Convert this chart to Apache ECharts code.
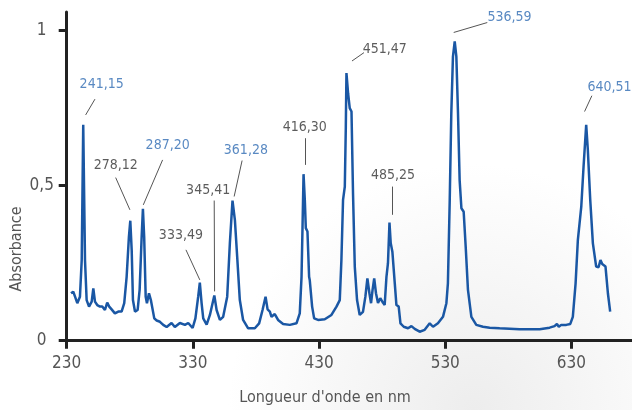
<!DOCTYPE html>
<html><head><meta charset="utf-8">
<script src="https://cdn.jsdelivr.net/npm/echarts@6/dist/echarts.min.js"></script>
<style>html,body{margin:0;padding:0;background:#fff}#c{width:632px;height:410px}</style>
</head><body><div id="c"></div>
<script>
// Spectrum (wavelength in nm, absorbance)
const wavelength = [
233.4,235.2,236.6,238.4,240.5,241.9,243.1,244.5,245.8,247.7,
249.8,251.1,252.4,254.2,256.4,258.2,260.3,262.1,263.7,265.6,
268.2,270.9,273.5,275.6,277.5,279.3,280.4,281.5,282.5,284.1,
286.2,287.8,289.4,290.4,291.4,292.6,293.6,295.2,296.7,298.1,
299.4,301.3,303.9,306.5,309.2,313.1,315.7,319.7,323.7,326.3,
329.8,332.0,334.2,335.5,336.9,338.2,340.9,343.5,345.6,347.0,
348.8,351.4,354.0,357.2,359.3,361.4,363.3,365.1,367.2,369.8,
373.8,379.1,382.5,385.2,387.6,389.2,391.0,392.3,394.9,397.5,
401.5,406.8,412.1,414.7,416.1,416.9,417.7,418.7,419.5,420.8,
422.1,422.6,423.4,424.5,426.1,429.2,434.5,439.8,443.8,446.4,
447.7,449.0,450.4,451.2,451.7,453.0,454.3,455.7,456.9,458.3,
460.1,462.2,464.8,466.7,468.3,469.9,471.2,472.4,473.7,475.1,
476.7,478.5,480.7,482.0,483.4,484.6,485.8,486.8,488.1,490.0,
491.3,493.1,494.5,497.1,500.5,503.2,505.8,509.7,513.7,517.7,
520.3,524.2,528.2,530.9,532.1,533.5,534.8,536.1,537.5,538.8,
540.1,541.4,542.8,544.6,546.2,548.0,550.7,554.6,559.9,565.2,
573.1,588.9,604.8,612.7,616.6,618.5,620.0,621.9,625.9,629.1,
631.1,633.3,635.1,637.8,639.6,641.7,643.0,644.9,647.0,649.6,
651.5,653.0,654.4,655.7,657.0,658.9,660.7];
const absorbance = [
0.153,0.158,0.142,0.121,0.142,0.260,0.696,0.260,0.131,0.110,
0.126,0.169,0.126,0.115,0.110,0.110,0.099,0.123,0.110,0.101,
0.088,0.094,0.094,0.121,0.206,0.335,0.387,0.293,0.131,0.094,
0.099,0.164,0.335,0.425,0.335,0.142,0.121,0.153,0.131,0.137,
0.072,0.065,0.061,0.051,0.044,0.057,0.044,0.057,0.051,0.057,
0.041,0.072,0.142,0.187,0.121,0.072,0.052,0.083,0.121,0.146,
0.099,0.067,0.077,0.142,0.314,0.452,0.389,0.271,0.131,0.067,
0.040,0.040,0.056,0.099,0.142,0.101,0.094,0.077,0.086,0.067,
0.054,0.051,0.056,0.088,0.206,0.368,0.537,0.454,0.363,0.352,
0.206,0.196,0.201,0.110,0.072,0.067,0.069,0.083,0.110,0.131,
0.260,0.454,0.497,0.690,0.863,0.798,0.750,0.739,0.476,0.239,
0.131,0.083,0.093,0.142,0.201,0.153,0.121,0.164,0.201,0.153,
0.122,0.137,0.122,0.115,0.206,0.250,0.381,0.314,0.287,0.185,
0.115,0.110,0.056,0.045,0.040,0.047,0.038,0.029,0.035,0.056,
0.045,0.056,0.077,0.121,0.185,0.443,0.734,0.916,0.965,0.916,
0.734,0.518,0.427,0.416,0.303,0.164,0.077,0.051,0.045,0.042,
0.040,0.037,0.037,0.042,0.047,0.054,0.045,0.051,0.051,0.054,
0.077,0.185,0.325,0.432,0.561,0.696,0.615,0.454,0.314,0.239,
0.237,0.260,0.247,0.252,0.239,0.153,0.094];

// Peak annotations
const peakNames = ['241,15','278,12','287,20','333,49','345,41','361,28','416,30','451,47','485,25','536,59','640,51'];
const peakHighlighted = [true,false,true,false,false,true,false,false,false,true,true];
const labelNm  = [257.7,268.8,310.0,320.5,342.1,372.0,418.7,482.0,488.6,581.0,660.2];
const labelAbs = [0.828,0.565,0.629,0.341,0.484,0.613,0.687,0.940,0.532,1.043,0.817];
const leaderFromNm  = [252.4,268.8,306.0,324.5,346.9,369.0,418.7,465.6,487.8,563.3,646.2];
const leaderFromAbs = [0.779,0.526,0.583,0.293,0.452,0.581,0.653,0.929,0.497,1.026,0.790];
const leaderToNm    = [245.0,280.1,290.7,335.5,347.2,362.7,418.7,456.1,487.8,536.7,640.4];
const leaderToAbs   = [0.728,0.422,0.438,0.196,0.159,0.465,0.567,0.902,0.406,0.994,0.739];

const xTicks = [230,330,430,530,630];
const yTicks = [0,0.5,1];

const FONT = '"Liberation Sans Narrow","DejaVu Sans Condensed","Roboto",sans-serif';
const BLUE = '#2f6cb3';

const chart = echarts.init(document.getElementById('c'), null, {renderer:'canvas'});
const lineData = wavelength.map((w,i)=>[w, absorbance[i]]);
const labelData = peakNames.map((n,i)=>({
  value:[labelNm[i], labelAbs[i], n],
  label:{color: peakHighlighted[i] ? BLUE : '#333'}
}));
const leaderData = peakNames.map((n,i)=>[
  {coord:[leaderFromNm[i], leaderFromAbs[i]]},
  {coord:[leaderToNm[i], leaderToAbs[i]]}
]);

chart.setOption({
  animation:false,
  backgroundColor:{type:'radial', x:0.75, y:1.0, r:0.6,
    colorStops:[{offset:0,color:'#ededed'},{offset:1,color:'#ffffff'}]},
  grid:{left:66.7, right:0, top:12, bottom:69.3},
  xAxis:{
    type:'value', min:230, max:678,
    axisLine:{show:true, onZero:false, lineStyle:{color:'#222', width:3}},
    axisTick:{show:true, length:8, lineStyle:{color:'#222', width:3}, customValues:xTicks},
    axisLabel:{customValues:xTicks, color:'#555', fontFamily:FONT, fontSize:17, margin:14},
    splitLine:{show:false}
  },
  yAxis:{
    type:'value', min:0, max:1.06,
    axisLine:{show:true, onZero:false, lineStyle:{color:'#222', width:3}},
    axisTick:{show:true, length:8, lineStyle:{color:'#222', width:3}, customValues:yTicks},
    axisLabel:{customValues:yTicks, color:'#555', fontFamily:FONT, fontSize:17, margin:25, align:'center',
      formatter:v=>String(v).replace('.',',')},
    splitLine:{show:false}
  },
  graphic:[
    {type:'text', x:325, y:398, style:{text:"Longueur d'onde en nm", fill:'#555', font:'16px '+FONT, textAlign:'center', textVerticalAlign:'middle'}},
    {type:'text', rotation:Math.PI/2, x:17, y:249, style:{text:'Absorbance', fill:'#555', font:'16px '+FONT, textAlign:'center', textVerticalAlign:'middle'}}
  ],
  series:[
    {type:'line', data:lineData, showSymbol:false, symbol:'none',
     lineStyle:{color:'#1a57a4', width:2.5}, z:3,
     markLine:{silent:true, symbol:['none','none'], label:{show:false},
       lineStyle:{color:'#555', width:1, type:'solid'}, emphasis:{disabled:true}, data:leaderData}},
    {type:'scatter', data:labelData, symbolSize:0, silent:true, z:4,
     label:{show:true, position:'inside', formatter:p=>p.value[2], fontFamily:FONT, fontSize:14}}
  ]
});
</script></body></html>
